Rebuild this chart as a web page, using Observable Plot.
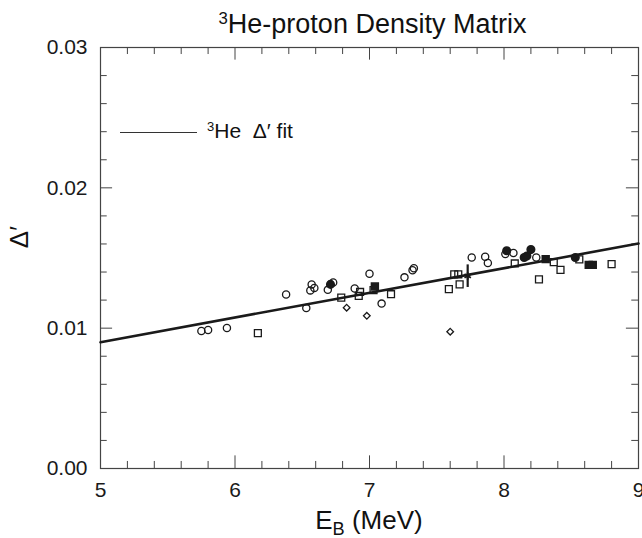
<!DOCTYPE html>
<html>
<head>
<meta charset="utf-8">
<script src="https://cdn.jsdelivr.net/npm/d3@7"></script>
<script src="https://cdn.jsdelivr.net/npm/@observablehq/plot@0.6"></script>
<style>
  body { margin: 0; background: #fff; }
  #wrap { position: relative; width: 642px; height: 538px; font-family: "Liberation Sans", Arial, sans-serif; color: #111; overflow: hidden; }
  #title { position: absolute; left: 100px; width: 545px; top: 9px; text-align: center; font-size: 27px; line-height: 30px; }
  #title sup, #legend sup { font-size: 62%; vertical-align: 0; position: relative; top: -0.55em; }
  #chart { position: absolute; left: 0; top: 0; }
  #xlabel { position: absolute; left: 100px; width: 538px; top: 506px; text-align: center; font-size: 26px; line-height: 28px; }
  #xlabel sub { font-size: 70%; vertical-align: 0; position: relative; top: 0.32em; }
  #ylabel { position: absolute; left: 8px; top: 222px; font-size: 26px; line-height: 30px; transform: rotate(-90deg); transform-origin: center; }
  #legend { position: absolute; left: 120px; top: 119px; font-size: 21px; line-height: 24px; display: flex; align-items: center; }
  #legend .ln { display: inline-block; width: 77px; border-top: 1.5px solid #333; margin-right: 10px; }
</style>
</head>
<body>
<div id="wrap">
  <div id="chart"></div>
  <div id="title"><sup>3</sup>He-proton Density Matrix</div>
  <div id="ylabel">Δ′</div>
  <div id="xlabel">E<sub>B</sub> (MeV)</div>
  <div id="legend"><span class="ln"></span><span><sup>3</sup>He&nbsp;&nbsp;Δ′ fit</span></div>
</div>
<script>
// ---- data ----
const openCircleE = [5.75, 5.80, 5.94, 6.38, 6.53, 6.57, 6.56, 6.59, 6.69, 6.73, 6.89, 7.00, 7.09, 7.26, 7.32, 7.33, 7.76, 7.86, 7.88, 8.01, 8.07, 8.24];
const openCircleD = [0.00980, 0.00987, 0.01001, 0.01240, 0.01143, 0.01312, 0.01269, 0.01287, 0.01273, 0.01326, 0.01283, 0.01388, 0.01175, 0.01362, 0.01413, 0.01427, 0.01504, 0.01509, 0.01464, 0.01529, 0.01536, 0.01504];

const filledCircleE = [6.71, 8.02, 8.15, 8.17, 8.20, 8.53];
const filledCircleD = [0.01312, 0.01552, 0.01504, 0.01514, 0.01560, 0.01504];

const openSquareE = [6.17, 6.79, 6.93, 6.92, 7.03, 7.16, 7.59, 7.63, 7.66, 7.67, 8.08, 8.26, 8.37, 8.42, 8.56, 8.80];
const openSquareD = [0.00965, 0.01218, 0.01258, 0.01230, 0.01271, 0.01242, 0.01278, 0.01384, 0.01384, 0.01312, 0.01461, 0.01348, 0.01471, 0.01415, 0.01490, 0.01456];

const filledSquareE = [7.04, 8.31, 8.63, 8.66];
const filledSquareD = [0.01297, 0.01492, 0.01451, 0.01451];

const diamondE = [6.83, 6.98, 7.60];
const diamondD = [0.01146, 0.01088, 0.00975];

const starE = [7.73];
const starD = [0.01372];
const starLo = [0.01290];
const starHi = [0.01451];

const fitE = [5, 9];
const fitD = [0.00900, 0.01603];

const xTicks = [5, 6, 7, 8, 9];
const yTicks = [0.00, 0.01, 0.02, 0.03];
const xMinorStep = 0.2;
const yMinorStep = 0.002;

// ---- tables ----
const pts = (E, D) => E.map((e, i) => ({E: e, D: D[i]}));
const openCircles = pts(openCircleE, openCircleD);
const filledCircles = pts(filledCircleE, filledCircleD);
const openSquares = pts(openSquareE, openSquareD);
const filledSquares = pts(filledSquareE, filledSquareD);
const diamonds = pts(diamondE, diamondD);
const stars = starE.map((e, i) => ({E: e, D: starD[i], lo: starLo[i], hi: starHi[i]}));
const fit = pts(fitE, fitD);

const xMinor = d3.range(xTicks[0], xTicks[xTicks.length - 1] + 1e-9, xMinorStep).filter(v => !xTicks.some(t => Math.abs(t - v) < 1e-6));
const yMinor = d3.range(yTicks[0], yTicks[yTicks.length - 1] + 1e-9, yMinorStep).filter(v => !yTicks.some(t => Math.abs(t - v) < 1e-6));

const x0 = 5, x1 = 9, y0 = 0, y1 = 0.03;
const ink = "#1a1a1a";

const chart = Plot.plot({
  width: 642,
  height: 500,
  marginTop: 47,
  marginBottom: 32,
  marginLeft: 100,
  marginRight: 4,
  style: {fontFamily: "'Liberation Sans', Arial, sans-serif", color: ink, background: "white"},
  x: {domain: [x0, x1]},
  y: {domain: [y0, y1]},
  marks: [
    Plot.frame({stroke: "#444", strokeWidth: 1.2}),
    // inward ticks, bottom & top
    Plot.ruleX(xTicks, {x: d => d, y1: y0, y2: y0 + 0.0009, stroke: "#444"}),
    Plot.ruleX(xMinor, {x: d => d, y1: y0, y2: y0 + 0.0005, stroke: "#444"}),
    Plot.ruleX(xTicks, {x: d => d, y1: y1, y2: y1 - 0.0009, stroke: "#444"}),
    Plot.ruleX(xMinor, {x: d => d, y1: y1, y2: y1 - 0.0005, stroke: "#444"}),
    // inward ticks, left & right
    Plot.ruleY(yTicks, {y: d => d, x1: x0, x2: x0 + 0.09, stroke: "#444"}),
    Plot.ruleY(yMinor, {y: d => d, x1: x0, x2: x0 + 0.05, stroke: "#444"}),
    Plot.ruleY(yTicks, {y: d => d, x1: x1, x2: x1 - 0.09, stroke: "#444"}),
    Plot.ruleY(yMinor, {y: d => d, x1: x1, x2: x1 - 0.05, stroke: "#444"}),
    Plot.axisX({ticks: xTicks, tickSize: 0, tickPadding: 14, tickFormat: d => String(d), fontSize: 21, label: null}),
    Plot.axisY({ticks: yTicks, tickSize: 0, tickPadding: 13, tickFormat: d3.format(".2f"), fontSize: 21, label: null}),
    // fit line
    Plot.line(fit, {x: "E", y: "D", stroke: ink, strokeWidth: 2.6}),
    // data
    Plot.dot(openCircles, {x: "E", y: "D", r: 3.6, symbol: "circle", stroke: ink, strokeWidth: 1.3, fill: "none"}),
    Plot.dot(filledCircles, {x: "E", y: "D", r: 3.8, symbol: "circle", stroke: ink, fill: ink}),
    Plot.dot(openSquares, {x: "E", y: "D", r: 3.9, symbol: "square", stroke: ink, strokeWidth: 1.3, fill: "none"}),
    Plot.dot(filledSquares, {x: "E", y: "D", r: 3.9, symbol: "square", stroke: ink, fill: ink}),
    Plot.dot(diamonds, {x: "E", y: "D", r: 3.0, symbol: "diamond2", stroke: ink, strokeWidth: 1.3, fill: "none"}),
    Plot.ruleX(stars, {x: "E", y1: "lo", y2: "hi", stroke: ink, strokeWidth: 2.2}),
    Plot.dot(stars, {x: "E", y: "D", r: 3.5, symbol: "asterisk", stroke: ink, strokeWidth: 1.8})
  ]
});
document.getElementById("chart").appendChild(chart);
</script>
</body>
</html>
